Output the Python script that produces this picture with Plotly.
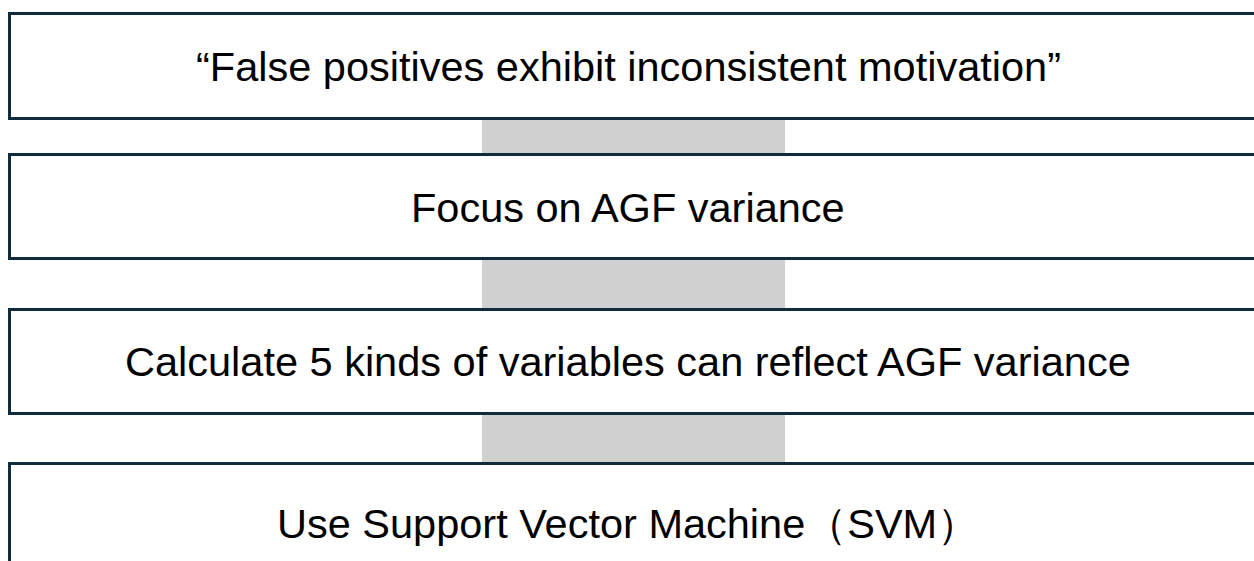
import plotly.graph_objects as go

# Flow step labels (top to bottom)
steps = [
    "\u201cFalse positives exhibit inconsistent motivation\u201d",
    "Focus on AGF variance",
    "Calculate 5 kinds of variables can reflect AGF variance",
    "Use Support Vector Machine\uff08SVM\uff09",
]

# Layout constants (pixel coordinates of the canvas)
W, H = 1254, 561
box_tops = [13.5, 154.5, 309.5, 463.5]
box_bottoms = [118.5, 258.5, 413.5, 600]
text_y = [66, 207, 361, 523]
box_x0, box_x1 = 9.5, 1270
text_x = 628
conn_x0, conn_x1 = 482, 785

BORDER = "#0F2B3C"
CONN = "#D0D0D0"

fig = go.Figure()
fig.add_trace(go.Scatter(x=[0, W], y=[0, H], mode="markers",
                         marker=dict(opacity=0), hoverinfo="skip", showlegend=False))

shapes = []
# connectors (drawn first, behind boxes)
for i in range(len(steps) - 1):
    shapes.append(dict(type="rect", xref="x", yref="y", layer="below",
                       x0=conn_x0, x1=conn_x1, y0=box_bottoms[i], y1=box_tops[i + 1],
                       fillcolor=CONN, line=dict(width=0)))
for i in range(len(steps)):
    shapes.append(dict(type="rect", xref="x", yref="y",
                       x0=box_x0, x1=box_x1, y0=box_tops[i], y1=box_bottoms[i],
                       fillcolor="rgba(0,0,0,0)", line=dict(color=BORDER, width=3)))

annotations = []
for i, s in enumerate(steps):
    annotations.append(dict(x=text_x, y=text_y[i], xref="x", yref="y", text=s,
                            showarrow=False, xanchor="center", yanchor="middle",
                            font=dict(family="Liberation Sans, Arial, sans-serif",
                                      size=41.5, color="#000000")))

fig.update_layout(
    width=W, height=H,
    margin=dict(l=0, r=0, t=0, b=0),
    paper_bgcolor="white", plot_bgcolor="white",
    xaxis=dict(range=[0, W], visible=False, fixedrange=True),
    yaxis=dict(range=[H, 0], visible=False, fixedrange=True),
    shapes=shapes, annotations=annotations,
    showlegend=False,
)

fig.write_html(
    "out.html",
    config={"displayModeBar": False},
    post_script="document.body.style.margin='0';document.body.style.overflow='hidden';",
)
